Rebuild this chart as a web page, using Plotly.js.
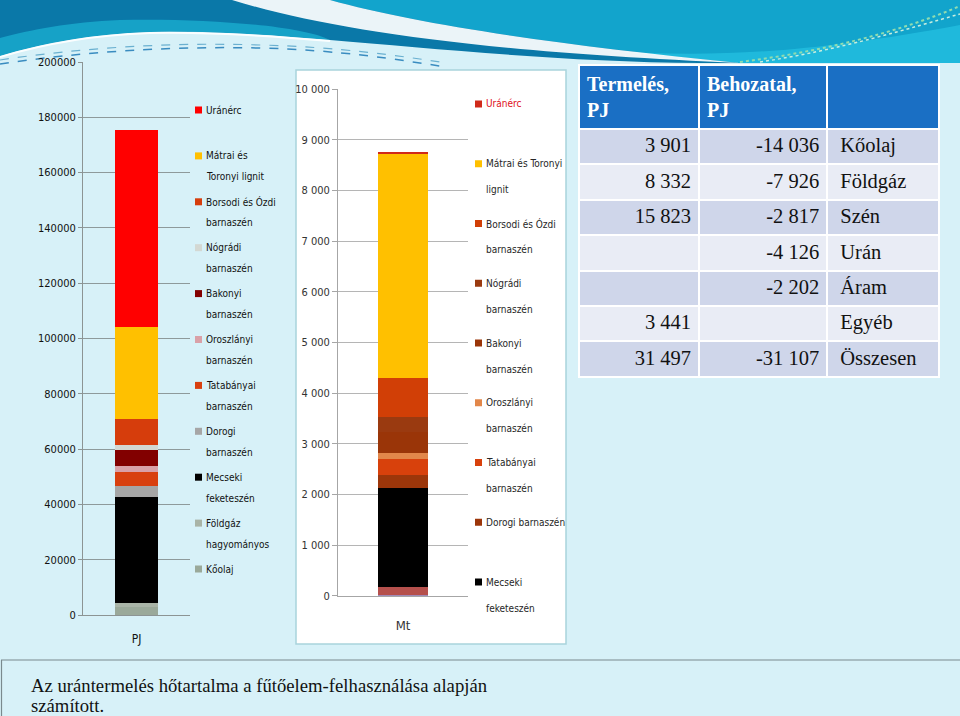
<!DOCTYPE html>
<html><head><meta charset="utf-8">
<script src="https://cdn.plot.ly/plotly-3.0.1.min.js"></script>
<style>html,body{margin:0;padding:0;background:#d7f1f8;overflow:hidden;} #chart{width:960px;height:716px;}</style>
</head><body><div id="chart"></div>
<script>
// ---- data (stack order: bottom -> top) ----
const seriesNames = ['Kőolaj','Földgáz hagyományos','Mecseki feketeszén','Dorogi barnaszén','Tatabányai barnaszén','Oroszlányi barnaszén','Bakonyi barnaszén','Nógrádi barnaszén','Borsodi és Ózdi barnaszén','Mátrai és Toronyi lignit','Uránérc'];
const pjCategory = ['PJ'];
const mtCategory = ['Mt'];
const pjValues = [3000, 1200, 38400, 3900, 5400, 2000, 5800, 1900, 9200, 33200, 71500];
const mtValues = [20, 145, 1968, 251, 316, 125, 400, 312, 758, 4433, 35];
const pjColors = ['#9aa99a','#a9b4a7','#000000','#a6a6a6','#d8400f','#d9a1a8','#820000','#d3d8d3','#d63d0c','#ffc000','#ff0000'];
const mtColors = ['#8064a2','#b5504c','#000000','#9c360a','#d8410c','#e2874a','#9a3508','#9a3a10','#d13f06','#ffc000','#d02a1a'];
const pjLegendLines = [['Kőolaj'],['Földgáz','hagyományos'],['Mecseki','feketeszén'],['Dorogi','barnaszén'],['Tatabányai','barnaszén'],['Oroszlányi','barnaszén'],['Bakonyi','barnaszén'],['Nógrádi','barnaszén'],['Borsodi és Ózdi','barnaszén'],['Mátrai és','Toronyi lignit'],['Uránérc']];
const mtLegendLines = [null,null,['Mecseki','feketeszén'],['Dorogi barnaszén'],['Tatabányai','barnaszén'],['Oroszlányi','barnaszén'],['Bakonyi','barnaszén'],['Nógrádi','barnaszén'],['Borsodi és Ózdi','barnaszén'],['Mátrai és Toronyi','lignit'],['<span style="color:#e0101a">Uránérc</span>']];
const tableHeader = ['<b>Termelés,<br>PJ</b>','<b>Behozatal,<br>PJ</b>',''];
const tableLabels = ['Kőolaj','Földgáz','Szén','Urán','Áram','Egyéb','Összesen'];
const tableProduction = [3901, 8332, 15823, null, null, 3441, 31497];
const tableImport = [-14036, -7926, -2817, -4126, -2202, null, -31107];
const captionLines = ['Az urántermelés hőtartalma a fűtőelem-felhasználása alapján','számított.'];

// ---- helpers ----
const W = 960, H = 716;
const X = p => p / W;
const Y = p => 1 - p / H;
const P = s => s.replace(/(-?\d+\.?\d*),(-?\d+\.?\d*)/g, (m, a, b) => X(+a).toFixed(5) + ',' + Y(+b).toFixed(5));
const fmt = n => {
  if (n === null || n === undefined) return '';
  const s = String(Math.abs(n)).replace(/\B(?=(\d{3})+(?!\d))/g, ' ');
  return (n < 0 ? '-' : '') + s;
};
const NARROW = '"DejaVu Sans Condensed", "Liberation Sans", sans-serif';
const SERIF = '"Liberation Serif", "DejaVu Serif", serif';

// ---- traces ----
const traces = [];
seriesNames.forEach((name, i) => {
  traces.push({type: 'bar', x: pjCategory, y: [pjValues[i]], name: name, width: 0.40,
    marker: {color: pjColors[i], line: {width: 0}}, xaxis: 'x', yaxis: 'y', showlegend: false,
    hovertemplate: name + ': %{y}<extra></extra>'});
});
seriesNames.forEach((name, i) => {
  traces.push({type: 'bar', x: mtCategory, y: [mtValues[i]], name: name, width: 0.385,
    marker: {color: mtColors[i], line: {width: 0}}, xaxis: 'x2', yaxis: 'y2', showlegend: false,
    hovertemplate: name + ': %{y}<extra></extra>'});
});
const rowFill = tableLabels.map((_, r) => r % 2 === 0 ? '#cfd6ea' : '#e9ecf5');
traces.push({
  type: 'table',
  domain: {x: [X(579), X(939)], y: [Y(379), Y(65)]},
  columnwidth: [118, 126, 110],
  header: {values: tableHeader, align: 'left', height: 63,
    fill: {color: '#1a6fc4'}, line: {color: '#ffffff', width: 2},
    font: {family: SERIF, size: 20, color: '#ffffff'}},
  cells: {values: [tableProduction.map(fmt), tableImport.map(fmt), tableLabels.map(t => '\u00a0' + t)],
    align: ['right', 'right', 'left'], height: 35.4,
    fill: {color: [rowFill, rowFill, rowFill]}, line: {color: '#ffffff', width: 2},
    font: {family: SERIF, size: 20.5, color: '#111111'}}
});

// ---- decorations ----
const shapes = [
  {type: 'path', layer: 'below', line: {width: 0}, fillcolor: '#0a78a8',
   path: P('M0,0 L960,0 L960,63 L700,63 C560,62 430,48 330,40 C250,33 200,31 150,32 C90,34 40,44 0,56 Z')},
  {type: 'path', layer: 'below', line: {width: 0}, fillcolor: 'rgba(30,190,220,0.6)',
   path: P('M0,56 C40,44 90,34 150,32 C200,31 250,33 330,40 C300,25 200,18 120,20 C70,22 30,30 0,38 Z')},
  {type: 'path', layer: 'below', line: {width: 0}, fillcolor: '#12a4cc',
   path: P('M330,0 C420,25 560,45 740,63 L960,63 L960,0 Z')},
  {type: 'path', layer: 'below', line: {width: 0}, fillcolor: 'rgba(40,200,230,0.6)',
   path: P('M600,50 C700,58 800,55 960,25 L960,63 L740,63 Z')},
  {type: 'path', layer: 'below', line: {width: 0}, fillcolor: 'rgba(255,255,255,0.92)',
   path: P('M232,0 C330,30 480,52 740,63 C560,45 420,25 330,0 Z')},
  {type: 'path', layer: 'below', line: {color: 'rgba(255,255,255,0.9)', width: 2},
   path: P('M0,57 C40,45 90,35 150,33 C200,32 250,34 330,41')},
  {type: 'path', layer: 'below', line: {color: '#3a8cc0', width: 1.5, dash: 'dash'},
   path: P('M0,64 C80,52 170,46 260,48 C340,50 400,60 440,66')},
  {type: 'path', layer: 'below', line: {color: '#6ab0d0', width: 1.2, dash: 'dash'},
   path: P('M0,60 C80,48 170,42 260,45 C340,47 400,56 440,62')},
  {type: 'path', layer: 'below', line: {color: '#8fdcb0', width: 2, dash: 'dot'},
   path: P('M740,62 C820,52 900,32 960,6')},
  {type: 'path', layer: 'below', line: {color: '#c8eedf', width: 1.5, dash: 'dot'},
   path: P('M760,62 C840,50 910,28 960,14')},
  {type: 'rect', layer: 'below', xref: 'paper', yref: 'paper', x0: X(296), x1: X(566), y0: Y(644), y1: Y(70),
   fillcolor: '#ffffff', line: {color: '#a9d3dc', width: 1.5}},
  {type: 'line', layer: 'below', xref: 'paper', yref: 'paper', x0: X(1), x1: X(960), y0: Y(660), y1: Y(660),
   line: {color: '#7a8a8e', width: 1.2}},
  {type: 'line', layer: 'below', xref: 'paper', yref: 'paper', x0: X(1.5), x1: X(1.5), y0: Y(660), y1: Y(716),
   line: {color: '#7a8a8e', width: 1.2}}
];
shapes.forEach(s => { if (!s.xref) { s.xref = 'paper'; s.yref = 'paper'; } });

const annotations = [];
const pjOrder = seriesNames.map((_, i) => i).reverse();
pjOrder.forEach((si, k) => {
  const yc = 110 + k * 45.9;
  shapes.push({type: 'rect', xref: 'paper', yref: 'paper', x0: X(195), x1: X(202), y0: Y(yc + 3.5), y1: Y(yc - 3.5),
    fillcolor: pjColors[si], line: {width: 0}});
  pjLegendLines[si].forEach((t, li) => {
    annotations.push({xref: 'paper', yref: 'paper', x: X(204), y: Y(yc + li * 21), xanchor: 'left', yanchor: 'middle',
      showarrow: false, text: t, font: {family: NARROW, size: 10, color: '#111111'}});
  });
});
const mtOrder = seriesNames.map((_, i) => i).reverse().filter(i => mtLegendLines[i]);
mtOrder.forEach((si, k) => {
  const yc = 104 + k * 59.75;
  shapes.push({type: 'rect', xref: 'paper', yref: 'paper', x0: X(475), x1: X(482), y0: Y(yc + 3.5), y1: Y(yc - 3.5),
    fillcolor: mtColors[si], line: {width: 0}});
  mtLegendLines[si].forEach((t, li) => {
    annotations.push({xref: 'paper', yref: 'paper', x: X(484), y: Y(yc + li * 26), xanchor: 'left', yanchor: 'middle',
      showarrow: false, text: t, font: {family: NARROW, size: 10, color: '#262626'}});
  });
});
captionLines.forEach((t, i) => {
  annotations.push({xref: 'paper', yref: 'paper', x: X(29), y: Y(685 + i * 20), xanchor: 'left', yanchor: 'middle',
    showarrow: false, text: t, font: {family: SERIF, size: 18.7, color: '#111111'}});
});

const layout = {
  width: W, height: H,
  margin: {l: 0, r: 0, t: 0, b: 0},
  paper_bgcolor: '#d7f1f8', plot_bgcolor: 'rgba(0,0,0,0)',
  separators: '. ',
  barmode: 'stack',
  showlegend: false,
  xaxis: {domain: [X(83), X(190)], anchor: 'y', range: [-0.5, 0.5], type: 'category',
    showline: true, linecolor: '#8c9494', linewidth: 1, ticks: '', showgrid: false, zeroline: false,
    tickfont: {family: NARROW, size: 12, color: '#111111'}, ticklabelstandoff: 13, fixedrange: true},
  yaxis: {domain: [Y(615), Y(62)], anchor: 'x', range: [0, 200000], dtick: 20000, tickformat: 'd',
    showgrid: true, gridcolor: '#8e9a9b', gridwidth: 1, zeroline: false,
    showline: true, linecolor: '#8c9494', linewidth: 1, ticks: 'outside', ticklen: 4, tickcolor: '#8c9494',
    tickfont: {family: NARROW, size: 11, color: '#111111'}, fixedrange: true},
  xaxis2: {domain: [X(338), X(468)], anchor: 'y2', range: [-0.5, 0.5], type: 'category',
    showline: true, linecolor: '#a6a6a6', linewidth: 1, ticks: '', showgrid: false, zeroline: false,
    tickfont: {family: NARROW, size: 13, color: '#333333'}, ticklabelstandoff: 18, fixedrange: true},
  yaxis2: {domain: [Y(595.7), Y(89.3)], anchor: 'x2', range: [0, 10000], dtick: 1000, tickformat: ',d',
    showgrid: true, gridcolor: '#b5b5b5', gridwidth: 1, zeroline: false,
    showline: true, linecolor: '#a6a6a6', linewidth: 1, ticks: 'outside', ticklen: 5, tickcolor: '#a6a6a6',
    tickfont: {family: NARROW, size: 11, color: '#333333'}, fixedrange: true},
  shapes: shapes,
  annotations: annotations
};

Plotly.newPlot('chart', traces, layout, {displayModeBar: false, staticPlot: true});
</script>
</body></html>
